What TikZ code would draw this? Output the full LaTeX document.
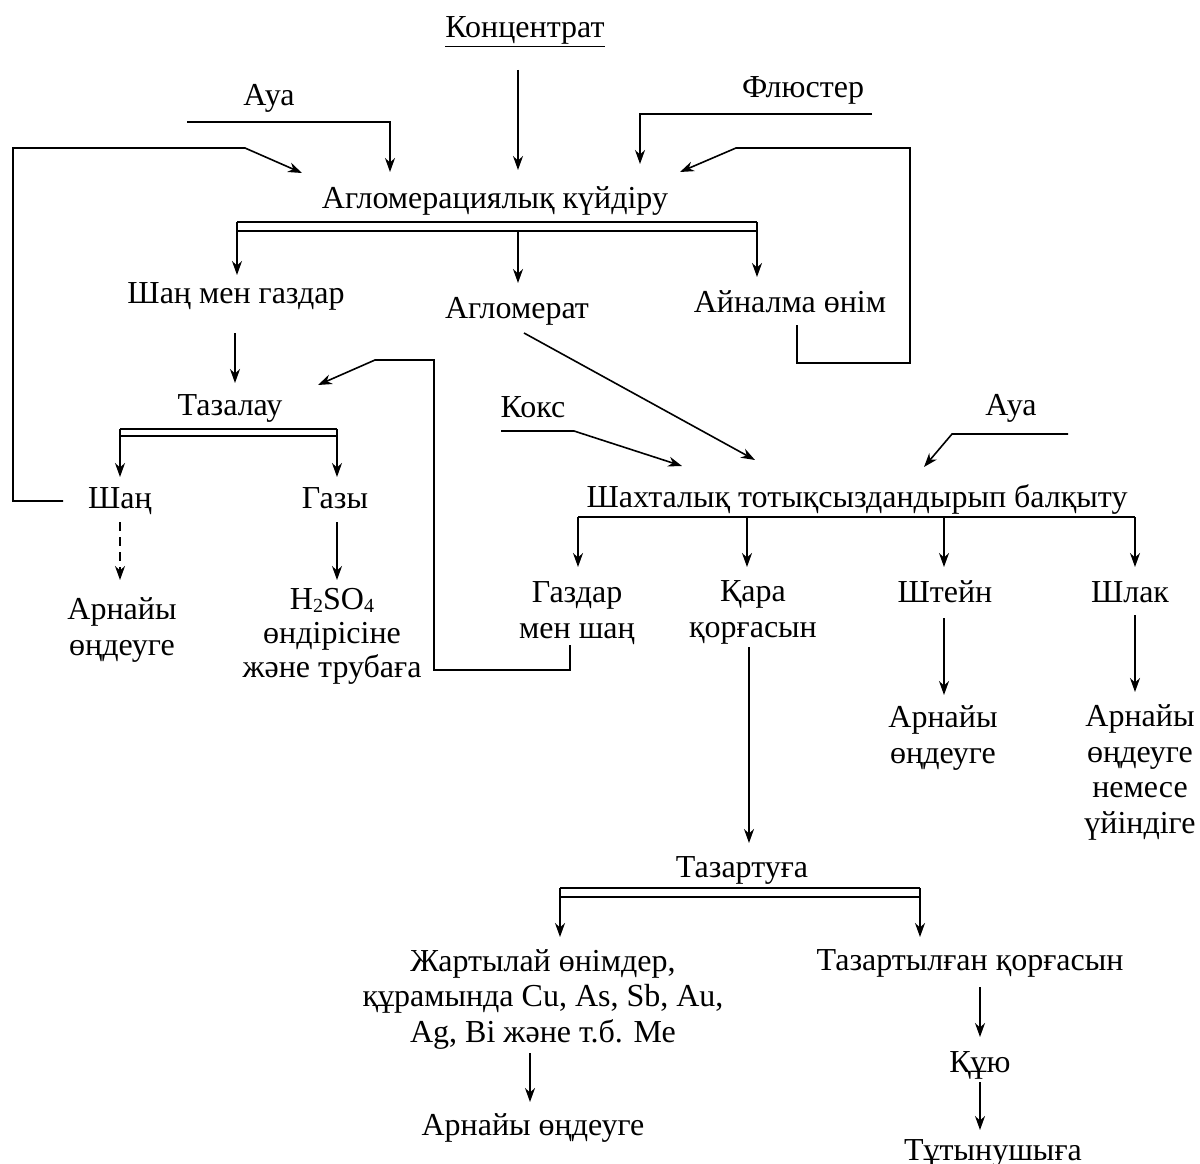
\documentclass[tikz,border=0pt]{standalone}
\usepackage{fontspec}
\setmainfont{Liberation Serif}
\usetikzlibrary{arrows.meta}
\newcommand{\mysub}[1]{\raisebox{-3pt}{\fontsize{20}{20}\selectfont #1}}
\begin{document}
\begin{tikzpicture}[x=1pt,y=-1pt,
  ln/.style={line width=1.6pt},
  arr/.style={line width=1.6pt,-{Stealth[length=14pt,width=10pt,inset=4.5pt]}},
  darr/.style={arr,dash pattern=on 9pt off 6pt},
  lbl/.style={inner sep=0pt,align=center,anchor=base,font=\fontsize{32}{35.5}\selectfont}]
\useasboundingbox (0,0) rectangle (1200,1164);
\clip (0,0) rectangle (1200,1164);
% ---- labels (anchor = baseline of last line)
\node[lbl] (konc) at (525,38) {\underline{Концентрат}};
\node[lbl] (aya1) at (269,105) {Ауа};
\node[lbl] (flu) at (803,97) {Флюстер};
\node[lbl] (agl) at (495,208) {Агломерациялық күйдіру};
\node[lbl] (shmg) at (236,303) {Шаң мен газдар};
\node[lbl] (aglm) at (517,318) {Агломерат};
\node[lbl] (ain) at (790,312) {Айналма өнім};
\node[lbl] (taz) at (230,415) {Тазалау};
\node[lbl] (koks) at (533,417) {Кокс};
\node[lbl] (aya2) at (1011,415) {Ауа};
\node[lbl] (shaht) at (857,507) {Шахталық тотықсыздандырып балқыту};
\node[lbl] (shan) at (120,508) {Шаң};
\node[lbl] (gazy) at (335,508) {Газы};
\node[lbl] (arn1) at (122,655) {Арнайы\\өңдеуге};
\node[lbl,font=\fontsize{32}{34}\selectfont] (h2so4) at (332,677) {H\mysub{2}SO\mysub{4}\\өндірісіне\\және трубаға};
\node[lbl] (gms) at (577,638) {Газдар\\мен шаң};
\node[lbl] (kara) at (753,637) {Қара\\қорғасын};
\node[lbl] (shtein) at (945,602) {Штейн};
\node[lbl] (shlak) at (1130,602) {Шлак};
\node[lbl] (arn2) at (943,763) {Арнайы\\өңдеуге};
\node[lbl] (arn3) at (1140,833) {Арнайы\\өңдеуге\\немесе\\үйіндіге};
\node[lbl] (tazart) at (742,877) {Тазартуға};
\node[lbl] (zhart) at (543,1042) {Жартылай өнімдер,\\құрамында Cu, As, Sb, Au,\\Ag, Bi және т.б. Ме};
\node[lbl] (tazk) at (970,970) {Тазартылған қорғасын};
\node[lbl] (arn4) at (533,1135) {Арнайы өңдеуге};
\node[lbl] (kuyu) at (980,1072) {Құю};
\node[lbl] (tut) at (993,1160) {Тұтынушыға};
% ---- coordinates
\coordinate (kA) at (518,70);   \coordinate (kB) at (518,170);
\coordinate (a1) at (187,122);  \coordinate (a2) at (390,122);  \coordinate (a3) at (390,172);
\coordinate (f1) at (872,114);  \coordinate (f2) at (640,114);  \coordinate (f3) at (640,164);
\coordinate (r1) at (797,325);  \coordinate (r2) at (797,363);  \coordinate (r3) at (910,363);
\coordinate (r4) at (910,148);  \coordinate (r5) at (736,148);  \coordinate (r6) at (680,172);
\coordinate (l1) at (63,501);   \coordinate (l2) at (13,501);   \coordinate (l3) at (13,148);
\coordinate (l4) at (245,148);  \coordinate (l5) at (302,173);
\coordinate (d1) at (237,222);  \coordinate (d2) at (757,222);
\coordinate (d3) at (237,231);  \coordinate (d4) at (757,231);
\coordinate (dA) at (237,275);  \coordinate (dB) at (757,277);
\coordinate (m1) at (518,231);  \coordinate (m2) at (518,283);
\coordinate (s1) at (235,333);  \coordinate (s2) at (235,383);
\coordinate (g1) at (570,645);  \coordinate (g2) at (570,670);  \coordinate (g3) at (434,670);
\coordinate (g4) at (434,360);  \coordinate (g5) at (375,360);  \coordinate (g6) at (318,385);
\coordinate (t1) at (120,429);  \coordinate (t2) at (337,429);
\coordinate (t3) at (120,436);  \coordinate (t4) at (337,436);
\coordinate (tA) at (120,477);  \coordinate (tB) at (337,477);
\coordinate (sh1) at (120,522); \coordinate (sh2) at (120,580);
\coordinate (gz1) at (337,522); \coordinate (gz2) at (337,580);
\coordinate (am1) at (524,333); \coordinate (am2) at (755,460);
\coordinate (k1) at (501,431);  \coordinate (k2) at (574,431);  \coordinate (k3) at (682,466);
\coordinate (w1) at (1068,434); \coordinate (w2) at (952,434);  \coordinate (w3) at (924,467);
\coordinate (h1) at (578,517);  \coordinate (h2) at (1135,517);
\coordinate (hA) at (578,567);  \coordinate (hB) at (747,517);  \coordinate (hB2) at (747,567);
\coordinate (hC) at (944,517);  \coordinate (hC2) at (944,567); \coordinate (hD) at (1135,567);
\coordinate (q1) at (749,647);  \coordinate (q2) at (749,843);
\coordinate (st1) at (944,618); \coordinate (st2) at (944,695);
\coordinate (sl1) at (1135,615);\coordinate (sl2) at (1135,692);
\coordinate (z1) at (560,888);  \coordinate (z2) at (920,888);
\coordinate (z3) at (560,897);  \coordinate (z4) at (920,897);
\coordinate (zA) at (560,937);  \coordinate (zB) at (920,937);
\coordinate (j1) at (530,1053); \coordinate (j2) at (530,1102);
\coordinate (c1) at (980,987);  \coordinate (c2) at (980,1037);
\coordinate (c3) at (980,1082); \coordinate (c4) at (980,1130);
% ---- connectors
\draw[arr] (kA) -- (kB);
\draw[arr] (a1) -- (a2) -- (a3);
\draw[arr] (f1) -- (f2) -- (f3);
\draw[arr] (r1) -- (r2) -- (r3) -- (r4) -- (r5) -- (r6);
\draw[arr] (l1) -- (l2) -- (l3) -- (l4) -- (l5);
\draw[ln] (d1) -- (d2);
\draw[ln] (d3) -- (d4);
\draw[arr] (d1) -- (dA);
\draw[arr] (d2) -- (dB);
\draw[arr] (m1) -- (m2);
\draw[arr] (s1) -- (s2);
\draw[arr] (g1) -- (g2) -- (g3) -- (g4) -- (g5) -- (g6);
\draw[ln] (t1) -- (t2);
\draw[ln] (t3) -- (t4);
\draw[arr] (t1) -- (tA);
\draw[arr] (t2) -- (tB);
\draw[darr] (sh1) -- (sh2);
\draw[arr] (gz1) -- (gz2);
\draw[arr] (am1) -- (am2);
\draw[arr] (k1) -- (k2) -- (k3);
\draw[arr] (w1) -- (w2) -- (w3);
\draw[ln] (h1) -- (h2);
\draw[arr] (h1) -- (hA);
\draw[arr] (hB) -- (hB2);
\draw[arr] (hC) -- (hC2);
\draw[arr] (h2) -- (hD);
\draw[arr] (q1) -- (q2);
\draw[arr] (st1) -- (st2);
\draw[arr] (sl1) -- (sl2);
\draw[ln] (z1) -- (z2);
\draw[ln] (z3) -- (z4);
\draw[arr] (z1) -- (zA);
\draw[arr] (z2) -- (zB);
\draw[arr] (j1) -- (j2);
\draw[arr] (c1) -- (c2);
\draw[arr] (c3) -- (c4);
\end{tikzpicture}
\end{document}
